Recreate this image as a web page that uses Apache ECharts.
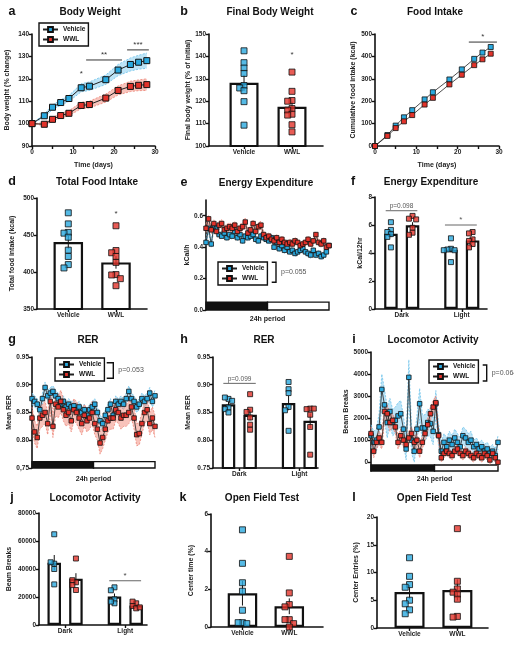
<!DOCTYPE html>
<html><head><meta charset="utf-8">
<script src="https://cdn.jsdelivr.net/npm/echarts@6/dist/echarts.min.js"></script>
<style>html,body{margin:0;padding:0;background:#fff}#c{width:514px;height:645px}</style>
</head><body><div id="c"></div>
<script>
// ================= DATA =================
const groupNames = ['Vehicle', 'WWL'];
const phaseNames = ['Dark', 'Light'];
// a Body weight
const daysA = [0, 3, 5, 7, 9, 12, 14, 18, 21, 24, 26, 28];
const bwVeh = [100, 103.5, 107.3, 109.4, 111.2, 116.0, 116.7, 119.6, 123.9, 126.4, 127.4, 128.1];
const bwVehSem = [0, 0.8, 1.0, 1.2, 1.3, 1.8, 1.9, 2.1, 2.5, 2.9, 3.1, 3.4];
const bwWwl = [100, 99.7, 101.9, 103.6, 104.6, 108.1, 108.5, 111.4, 114.8, 116.6, 117.1, 117.4];
const bwWwlSem = [0, 0.6, 0.8, 1.0, 1.1, 1.4, 1.5, 1.8, 2.0, 2.3, 2.4, 2.6];
const sigA = [[12, 12, 120.0, '*'], [13.2, 21.95, 128.4, '**'], [23.2, 28.5, 132.9, '***']];
// b Final body weight
const fbwVehPts = [142.5, 137.2, 134.8, 132.4, 127.0, 125.9, 124.7, 119.8, 109.3];
const fbwWwlPts = [133.0, 124.4, 120.3, 120.0, 116.7, 116.0, 114.2, 113.8, 109.5, 106.3];
const fbwMean = [128.2, 117.5];
const fbwSem = [3.6, 2.3];
const sigB = [[2, 2, 138.4, '*']];
// c Food intake
const fiVeh = [0, 49, 91, 128, 160, 208, 240, 297, 342, 389, 417, 442];
const fiWwl = [0, 45, 80, 110, 138, 185, 215, 275, 318, 361, 387, 412];
const sigC = [[22.7, 29.5, 464, '*']];
// d Total food intake
const tfiVehPts = [480, 465, 453.5, 452.5, 447, 429.5, 421, 410, 405.5];
const tfiWwlPts = [462.5, 429, 426, 421, 413, 396.5, 396, 391, 381.5];
const tfiMean = [440.5, 413];
const tfiSem = [9, 8.5];
const sigD = [[2, 2, 472, '*']];
// e Energy expenditure (24h)
const eVeh = [0.43,0.52,0.42,0.53,0.52,0.48,0.47,0.49,0.46,0.48,0.47,0.50,0.46,0.48,0.44,0.47,0.46,0.47,0.48,0.45,0.44,0.47,0.46,0.45,0.44,0.46,0.40,0.43,0.39,0.41,0.38,0.40,0.37,0.38,0.36,0.37,0.38,0.39,0.37,0.36,0.35,0.38,0.35,0.36,0.34,0.35,0.37,0.41];
const eVehSem = [0.02,0.025,0.02,0.02,0.02,0.02,0.02,0.02,0.02,0.02,0.02,0.02,0.02,0.02,0.02,0.02,0.02,0.02,0.02,0.02,0.02,0.02,0.02,0.02,0.02,0.02,0.02,0.02,0.02,0.02,0.02,0.02,0.02,0.02,0.02,0.02,0.02,0.02,0.02,0.02,0.02,0.02,0.02,0.02,0.02,0.02,0.02,0.02];
const eWwl = [0.52,0.58,0.51,0.55,0.50,0.54,0.55,0.51,0.52,0.53,0.52,0.54,0.50,0.52,0.53,0.56,0.49,0.51,0.55,0.50,0.53,0.54,0.48,0.46,0.47,0.45,0.44,0.46,0.43,0.45,0.43,0.42,0.43,0.42,0.44,0.43,0.41,0.42,0.43,0.45,0.42,0.44,0.48,0.43,0.42,0.44,0.40,0.41];
const eWwlSem = [0.025,0.025,0.025,0.025,0.025,0.025,0.025,0.025,0.025,0.025,0.025,0.025,0.025,0.025,0.025,0.025,0.025,0.025,0.025,0.025,0.025,0.025,0.025,0.025,0.02,0.02,0.02,0.02,0.02,0.02,0.02,0.02,0.02,0.02,0.02,0.02,0.02,0.02,0.02,0.02,0.02,0.02,0.02,0.02,0.02,0.02,0.02,0.02];
// f Energy expenditure per 12h
const eeDarkVeh = [6.2, 5.65, 5.5, 5.35, 5.15, 4.4];
const eeDarkWwl = [6.65, 6.45, 6.4, 5.8, 5.45, 5.3];
const eeLightVeh = [5.05, 4.3, 4.25, 4.2, 4.2, 3.35];
const eeLightWwl = [5.5, 5.4, 4.97, 4.86, 4.64, 4.4];
const eeVehMean = [5.38, 4.24], eeVehSem = [0.25, 0.22];
const eeWwlMean = [5.98, 4.9], eeWwlSem = [0.22, 0.17];
const sigF = [[0.733, 1.26, 7.02, 'p=0.098'], [1.72, 2.25, 6.0, '*']];
// g RER (24h)
const gVeh = [0.875,0.87,0.865,0.855,0.875,0.895,0.88,0.885,0.888,0.88,0.875,0.865,0.87,0.86,0.865,0.86,0.862,0.855,0.86,0.85,0.855,0.845,0.855,0.86,0.865,0.85,0.835,0.83,0.845,0.855,0.865,0.845,0.87,0.865,0.87,0.865,0.875,0.888,0.875,0.87,0.86,0.865,0.875,0.87,0.875,0.885,0.87,0.88];
const gVehSem = [0.01,0.01,0.01,0.01,0.01,0.01,0.01,0.01,0.01,0.01,0.01,0.01,0.01,0.01,0.01,0.01,0.01,0.01,0.01,0.01,0.01,0.01,0.01,0.01,0.01,0.01,0.01,0.01,0.01,0.01,0.01,0.01,0.01,0.01,0.01,0.01,0.01,0.01,0.01,0.01,0.01,0.01,0.01,0.01,0.01,0.01,0.01,0.01];
const gWwl = [0.84,0.815,0.805,0.84,0.845,0.85,0.83,0.87,0.825,0.865,0.86,0.87,0.855,0.845,0.85,0.835,0.855,0.85,0.84,0.83,0.845,0.835,0.84,0.85,0.83,0.82,0.795,0.805,0.82,0.835,0.84,0.84,0.855,0.85,0.84,0.845,0.845,0.85,0.86,0.84,0.81,0.812,0.83,0.85,0.855,0.83,0.84,0.825];
const gWwlSem = [0.02,0.02,0.02,0.02,0.02,0.02,0.02,0.02,0.02,0.02,0.02,0.02,0.02,0.02,0.02,0.02,0.02,0.02,0.02,0.02,0.02,0.02,0.02,0.02,0.02,0.02,0.02,0.02,0.02,0.02,0.02,0.02,0.02,0.02,0.02,0.02,0.02,0.02,0.02,0.02,0.02,0.02,0.02,0.02,0.02,0.02,0.02,0.02];
// h RER per phase
const rerDarkVeh = [0.8745, 0.877, 0.871, 0.859, 0.856, 0.85];
const rerDarkWwl = [0.883, 0.855, 0.851, 0.841, 0.828, 0.819];
const rerLightVeh = [0.905, 0.892, 0.885, 0.86, 0.854, 0.817];
const rerLightWwl = [0.857, 0.856, 0.857, 0.846, 0.824, 0.774];
const rerVehMean = [0.865, 0.867], rerVehSem = [0.004, 0.013];
const rerWwlMean = [0.846, 0.835], rerWwlSem = [0.01, 0.013];
const sigH = [[0.734, 1.274, 0.9025, 'p=0.099']];
// i Locomotor activity (24h)
const iVeh = [1200,900,1000,1600,3300,2600,1800,2300,1800,1900,2100,2200,1500,600,3850,1000,500,1500,2650,1550,1550,1800,1750,1400,2650,1250,500,900,700,1000,800,1100,900,700,1200,1100,900,1000,700,800,600,700,500,600,400,500,300,900];
const iVehSem = [500,500,500,600,700,700,700,600,600,600,600,600,600,500,800,600,500,600,700,600,600,600,600,600,600,500,400,400,400,400,400,400,400,400,400,400,400,400,300,300,300,300,300,300,300,300,300,300];
const iWwl = [1300,500,900,1100,900,2300,2200,1800,1900,1600,900,1200,1000,800,1100,1300,900,1000,500,900,1300,1700,2200,2500,2700,1200,200,400,500,400,300,500,600,400,300,500,400,300,200,400,300,200,400,300,100,400,200,0];
const iWwlSem = [300,300,300,300,300,400,400,400,300,300,300,300,300,300,300,300,300,300,300,300,300,300,300,300,300,300,200,200,200,200,200,200,200,200,200,200,200,200,200,200,200,200,200,200,200,200,200,200];
// j Locomotor activity per phase
const laDarkVeh = [64800, 43800, 44800, 40000, 29000];
const laDarkWwl = [47500, 30500, 32000, 28500, 25000];
const laLightVeh = [26900, 24800, 18300, 15500, 16700];
const laLightWwl = [15500, 16700, 13600, 11900, 12600];
const laVehMean = [44500, 20300], laVehSem = [5500, 2200];
const laWwlMean = [33000, 14000], laWwlSem = [4000, 900];
const sigJ = [[1.733, 2.262, 31600, '*']];
// k Open field centre time
const ctVehPts = [5.16, 3.38, 2.35, 1.9, 0.89, 0.23, 0.23, 0.18];
const ctWwlPts = [3.75, 1.81, 1.19, 1.07, 0.39, 0.39, 0.18, 0.0];
const ctMean = [1.79, 1.1], ctSem = [0.65, 0.42];
// l Open field centre entries
const ceVehPts = [12.66, 9.31, 7.82, 7.34, 5.01, 4.36, 3.28, 2.57];
const ceWwlPts = [17.9, 8.42, 7.04, 6.45, 6.09, 5.19, 2.09, 1.97];
const ceMean = [6.5, 6.85], ceSem = [1.25, 1.9];

// ================= STYLE / LAYOUT =================
const FONT = '"Liberation Sans", Arial, Helvetica, sans-serif';
const BLUE = '#2aa9df', RED = '#e2332b';
const BAND_B = 'rgba(135,205,240,0.55)', BAND_R = 'rgba(242,135,120,0.5)';
const EDGE_B = '#6fc3ea', EDGE_R = '#ec8577';
const GO = 0.18;
const L = {
  a:{l:32,t:34,w:123,h:112,ymin:90,ymax:140,xmin:0,xmax:30},
  b:{l:209,t:34,w:114,h:112,ymin:100,ymax:150,xmin:0.27,xmax:2.646},
  c:{l:375,t:34,w:124,h:112,ymin:0,ymax:500,xmin:0,xmax:30},
  d:{l:37,t:198,w:110,h:111,ymin:350,ymax:500,xmin:0.344,xmax:2.65},
  e:{l:206,t:200,w:123,h:110,ymin:0,ymax:0.7,xmin:0,xmax:47},
  f:{l:375,t:197,w:112,h:112,ymin:0,ymax:8,xmin:0.555,xmax:2.42},
  g:{l:32,t:357,w:123,h:111,ymin:0.75,ymax:0.95,xmin:0,xmax:47},
  h:{l:213,t:357,w:105,h:111,ymin:0.75,ymax:0.95,xmin:0.562,xmax:2.31},
  i:{l:371,t:352,w:127,h:119,ymin:-400,ymax:5000,xmin:0,xmax:47},
  j:{l:39,t:513,w:108,h:112,ymin:0,ymax:80000,xmin:0.567,xmax:2.36},
  k:{l:211,t:514,w:112,h:113,ymin:0,ymax:6,xmin:0.328,xmax:2.72},
  l:{l:377,t:517,w:111,h:111,ymin:0,ymax:20,xmin:0.32,xmax:2.64}
};

const grids = [], xAxes = [], yAxes = [], series = [], graphics = [];
const axLine = () => ({show:true, onZero:false, lineStyle:{color:'#111', width:1.6}});
const axTick = (extra) => Object.assign({show:true, length:3, lineStyle:{color:'#111', width:1.4}}, extra||{});
const axLab = (extra) => Object.assign({fontSize:6.5, fontWeight:'bold', color:'#222', fontFamily:FONT, margin:3}, extra||{});
const nameStyle = {fontSize:7, fontWeight:'bold', color:'#222', fontFamily:FONT};

function addGrid(p){ grids.push({left:p.l, top:p.t, width:p.w, height:p.h, containLabel:false, outerBoundsMode:'none'}); return grids.length-1; }
function addY(gi, p, name, gap, interval, fmt, custom){
  yAxes.push({type:'value', gridIndex:gi, min:p.ymin, max:p.ymax, interval:interval,
    name:name, nameLocation:'middle', nameGap:gap, nameRotate:90, nameTextStyle:nameStyle,
    axisLine:axLine(), axisTick:axTick(custom?{customValues:custom}:{}),
    axisLabel:axLab(Object.assign({formatter:fmt||(v=>String(v))}, custom?{customValues:custom}:{})),
    splitLine:{show:false}});
}
function addXCat(gi, p, cats){
  const vals = cats.map((_,i)=>i+1);
  xAxes.push({type:'value', gridIndex:gi, min:p.xmin, max:p.xmax, axisLine:axLine(),
    axisTick:axTick({customValues:vals}),
    axisLabel:axLab({customValues:vals, formatter:v=>cats[Math.round(v)-1]}), splitLine:{show:false}});
}
function addXTime(gi, p){
  xAxes.push({type:'value', gridIndex:gi, min:p.xmin, max:p.xmax, interval:5, axisLine:axLine(), axisTick:axTick(),
    axisLabel:axLab({customValues:[0,10,20,30]}), splitLine:{show:false},
    name:'Time (days)', nameLocation:'middle', nameGap:16, nameTextStyle:nameStyle});
}
function addX24(gi, p, gap){
  xAxes.push({type:'value', gridIndex:gi, min:p.xmin, max:p.xmax, axisLine:{show:false}, axisTick:{show:false},
    axisLabel:{show:false}, splitLine:{show:false},
    name:'24h period', nameLocation:'middle', nameGap:gap, nameTextStyle:nameStyle});
}
function bandSeries(gi, xs, mean, sem, fill, edge){
  return {type:'custom', xAxisIndex:gi, yAxisIndex:gi, z:1, silent:true,
    data: xs.map((x,i)=>[x, mean[i]-sem[i], mean[i]+sem[i]]), encode:{x:0, y:[1,2]},
    renderItem(params, api){
      if (params.dataIndex !== 0) return null;
      const up = xs.map((x,i)=>api.coord([x, mean[i]+sem[i]]));
      const lo = xs.map((x,i)=>api.coord([x, mean[i]-sem[i]]));
      return {type:'group', children:[
        {type:'polygon', shape:{points: up.concat(lo.slice().reverse())}, style:{fill:fill}},
        {type:'polyline', shape:{points: up}, style:{stroke:edge, lineWidth:0.8, lineDash:[2,1.5], fill:null}},
        {type:'polyline', shape:{points: lo}, style:{stroke:edge, lineWidth:0.8, lineDash:[2,1.5], fill:null}}
      ]};
    }};
}
function lineSeries(gi, name, xs, ys, color, size, z){
  return {type:'line', name:name, xAxisIndex:gi, yAxisIndex:gi, data: xs.map((x,i)=>[x, ys[i]]),
    symbol:'rect', symbolSize:size, showAllSymbol:true, itemStyle:{color:color, borderColor:'#111', borderWidth:size>5?1:0.8},
    lineStyle:{color:'#222', width:size>5?1:0.8}, z:z||5, silent:true};
}
function errSeries(gi, xs, means, sems){
  return {type:'custom', xAxisIndex:gi, yAxisIndex:gi, z:3, silent:true,
    data: xs.map((x,i)=>[x, means[i]-sems[i], means[i]+sems[i]]), encode:{x:0, y:[1,2]},
    renderItem(params, api){
      const lo = api.coord([api.value(0), api.value(1)]);
      const hi = api.coord([api.value(0), api.value(2)]);
      return {type:'line', shape:{x1:lo[0], y1:lo[1], x2:hi[0], y2:hi[1]}, style:{stroke:'#111', lineWidth:1}};
    }};
}
// simple beeswarm: spreads points of similar value sideways (pixel based)
function swarm(vals, yppu, xppu, size){
  const step = size*0.72, placed = [], offs = [];
  vals.forEach(v=>{
    const py = v*yppu;
    for (let k=0;k<30;k++){
      const cand = k===0?0:(k%2?-1:1)*Math.ceil(k/2)*step;
      if (placed.every(q=>Math.abs(q.x-cand)>=step*0.99 || Math.abs(q.y-py)>=size*0.75)){
        placed.push({x:cand,y:py}); offs.push(cand/xppu); break;
      }
    }
  });
  return offs;
}
function barPanel(gi, p, xs, means, sems, groups, colors, barW, ms){
  const yppu = p.h/(p.ymax-p.ymin), xppu = p.w/(p.xmax-p.xmin);
  series.push({type:'bar', xAxisIndex:gi, yAxisIndex:gi, data: xs.map((x,i)=>[x, means[i]]), barWidth:barW,
    itemStyle:{color:'#fff', borderColor:'#111', borderWidth:2.2}, z:2, silent:true});
  series.push(errSeries(gi, xs, means, sems));
  groups.forEach((vals, g)=>{
    const offs = swarm(vals, yppu, xppu, ms);
    series.push({type:'scatter', xAxisIndex:gi, yAxisIndex:gi, data: vals.map((v,j)=>[xs[g]+offs[j], v]),
      symbol:'rect', symbolSize:ms, itemStyle:{color:colors[g], borderColor:'#111', borderWidth:1}, z:4, silent:true});
  });
}
function sigSeries(gi, items, opt){
  opt = opt || {};
  return {type:'custom', xAxisIndex:gi, yAxisIndex:gi, z:6, silent:true,
    data: items.map(it=>[it[0], it[1], it[2]]), encode:{x:[0,1], y:2},
    renderItem(params, api){
      const it = items[params.dataIndex];
      const a = api.coord([it[0], it[2]]), b = api.coord([it[1], it[2]]);
      const ch = [];
      const isP = String(it[3]).indexOf('p=') === 0;
      if (it[1] > it[0]) ch.push({type:'line', shape:{x1:a[0],y1:a[1],x2:b[0],y2:b[1]}, style:{stroke:opt.lc||'#333', lineWidth:1}});
      ch.push({type:'text', style:{text:it[3], x:(a[0]+b[0])/2, y:a[1]-1, align:'center', verticalAlign:'bottom',
        textAlign:'center', textVerticalAlign:'bottom', fontSize:isP?6.5:8, fontWeight:'normal', fontFamily:FONT, fill:opt.tc||'#333'}});
      return {type:'group', children:ch};
    }};
}
function periodBar(p, hFrac){
  // light/dark bar along the bottom, in data units of the panel
  const y0 = p.ymin, y1 = p.ymin + (p.ymax - p.ymin) * hFrac, mid = (p.xmin + p.xmax) / 2;
  return {silent:true, data:[
    [{xAxis:p.xmin, yAxis:y0, itemStyle:{color:'#111', borderColor:'#111', borderWidth:1.4}}, {xAxis:mid, yAxis:y1}],
    [{xAxis:mid, yAxis:y0, itemStyle:{color:'#fff', borderColor:'#111', borderWidth:1.4}}, {xAxis:p.xmax, yAxis:y1}]
  ]};
}
const idx = n => Array.from({length:n}, (_, i) => i);

// ---- a
let gi = addGrid(L.a); addXTime(gi, L.a); addY(gi, L.a, 'Body weight (% change)', 21.5, 10);
series.push(bandSeries(gi, daysA, bwVeh, bwVehSem, BAND_B, EDGE_B));
series.push(bandSeries(gi, daysA, bwWwl, bwWwlSem, BAND_R, EDGE_R));
series.push(lineSeries(gi, 'Vehicle', daysA, bwVeh, BLUE, 6));
series.push(lineSeries(gi, 'WWL', daysA, bwWwl, RED, 6));
series.push(sigSeries(gi, sigA));
// ---- b
gi = addGrid(L.b); addXCat(gi, L.b, groupNames); addY(gi, L.b, 'Final body weight (% of initial)', 15.5, 10);
barPanel(gi, L.b, [1,2], fbwMean, fbwSem, [fbwVehPts, fbwWwlPts], [BLUE, RED], 29, 6);
series.push(sigSeries(gi, sigB));
// ---- c
gi = addGrid(L.c); addXTime(gi, L.c); addY(gi, L.c, 'Cumulative food intake (kcal)', 18.5, 100);
series.push(lineSeries(gi, 'Vehicle', daysA, fiVeh, BLUE, 5));
series.push(lineSeries(gi, 'WWL', daysA, fiWwl, RED, 5));
series.push(sigSeries(gi, sigC));
// ---- d
gi = addGrid(L.d); addXCat(gi, L.d, groupNames); addY(gi, L.d, 'Total food intake (kcal)', 21.5, 50);
barPanel(gi, L.d, [1,2], tfiMean, tfiSem, [tfiVehPts, tfiWwlPts], [BLUE, RED], 29.5, 6);
series.push(sigSeries(gi, sigD));
// ---- e
gi = addGrid(L.e); addX24(gi, L.e, 6); addY(gi, L.e, 'kCal/h', 15.5, null, v=>v.toFixed(1), [0,0.2,0.4,0.6]);
series.push(bandSeries(gi, idx(eVeh.length), eVeh, eVehSem, BAND_B, EDGE_B));
series.push(bandSeries(gi, idx(eWwl.length), eWwl, eWwlSem, BAND_R, EDGE_R));
let s = lineSeries(gi, 'Vehicle', idx(eVeh.length), eVeh, BLUE, 4.5); s.markArea = periodBar(L.e, 0.072); series.push(s);
series.push(lineSeries(gi, 'WWL', idx(eWwl.length), eWwl, RED, 4.5, 6));
// ---- f
gi = addGrid(L.f); addXCat(gi, L.f, phaseNames); addY(gi, L.f, 'kCal/12hr', 11.5, 2);
barPanel(gi, L.f, [1-GO, 1+GO, 2-GO, 2+GO], [eeVehMean[0], eeWwlMean[0], eeVehMean[1], eeWwlMean[1]],
  [eeVehSem[0], eeWwlSem[0], eeVehSem[1], eeWwlSem[1]], [eeDarkVeh, eeDarkWwl, eeLightVeh, eeLightWwl], [BLUE, RED, BLUE, RED], 13.5, 5);
series.push(sigSeries(gi, sigF, {lc:'#666', tc:'#555'}));
// ---- g
gi = addGrid(L.g); addX24(gi, L.g, 7.5); addY(gi, L.g, 'Mean RER', 13.5, 0.05, v=>Math.abs(v-0.75)<1e-6?'0,75':v.toFixed(2));
series.push(bandSeries(gi, idx(gVeh.length), gVeh, gVehSem, BAND_B, EDGE_B));
series.push(bandSeries(gi, idx(gWwl.length), gWwl, gWwlSem, BAND_R, EDGE_R));
s = lineSeries(gi, 'Vehicle', idx(gVeh.length), gVeh, BLUE, 4.5); s.markArea = periodBar(L.g, 0.057); series.push(s);
series.push(lineSeries(gi, 'WWL', idx(gWwl.length), gWwl, RED, 4.5, 6));
// ---- h
gi = addGrid(L.h); addXCat(gi, L.h, phaseNames); addY(gi, L.h, 'Mean RER', 21, 0.05, v=>v.toFixed(2));
barPanel(gi, L.h, [1-GO, 1+GO, 2-GO, 2+GO], [rerVehMean[0], rerWwlMean[0], rerVehMean[1], rerWwlMean[1]],
  [rerVehSem[0], rerWwlSem[0], rerVehSem[1], rerWwlSem[1]], [rerDarkVeh, rerDarkWwl, rerLightVeh, rerLightWwl], [BLUE, RED, BLUE, RED], 13.5, 5);
series.push(sigSeries(gi, sigH, {lc:'#666', tc:'#555'}));
// ---- i
gi = addGrid(L.i); addX24(gi, L.i, 5); addY(gi, L.i, 'Beam Breaks', 14, null, v=>String(v), [0,1000,2000,3000,4000,5000]);
series.push(bandSeries(gi, idx(iVeh.length), iVeh, iVehSem, BAND_B, EDGE_B));
series.push(bandSeries(gi, idx(iWwl.length), iWwl, iWwlSem, BAND_R, EDGE_R));
s = lineSeries(gi, 'Vehicle', idx(iVeh.length), iVeh, BLUE, 4.5); s.markArea = periodBar(L.i, 0.05); series.push(s);
series.push(lineSeries(gi, 'WWL', idx(iWwl.length), iWwl, RED, 4.5, 6));
// ---- j
gi = addGrid(L.j); addXCat(gi, L.j, phaseNames); addY(gi, L.j, 'Beam Breaks', 26, 20000);
barPanel(gi, L.j, [1-GO, 1+GO, 2-GO, 2+GO], [laVehMean[0], laWwlMean[0], laVehMean[1], laWwlMean[1]],
  [laVehSem[0], laWwlSem[0], laVehSem[1], laWwlSem[1]], [laDarkVeh, laDarkWwl, laLightVeh, laLightWwl], [BLUE, RED, BLUE, RED], 13.5, 5);
series.push(sigSeries(gi, sigJ, {lc:'#666', tc:'#444'}));
// ---- k
gi = addGrid(L.k); addXCat(gi, L.k, groupNames); addY(gi, L.k, 'Center time (%)', 16.5, 2);
barPanel(gi, L.k, [1,2], ctMean, ctSem, [ctVehPts, ctWwlPts], [BLUE, RED], 29.5, 6);
// ---- l
gi = addGrid(L.l); addXCat(gi, L.l, groupNames); addY(gi, L.l, 'Center Entries (%)', 17, 5);
barPanel(gi, L.l, [1,2], ceMean, ceSem, [ceVehPts, ceWwlPts], [BLUE, RED], 30, 6);

// ---- titles & letters
const titles = [
  ['a', 'Body Weight', 12, 90, 12], ['b', 'Final Body Weight', 184, 270, 12], ['c', 'Food Intake', 354, 435, 12],
  ['d', 'Total Food Intake', 12, 97, 182], ['e', 'Energy Expenditure', 184, 266, 183], ['f', 'Energy Expenditure', 353, 431, 182],
  ['g', 'RER', 12, 88, 340], ['h', 'RER', 184, 264, 340], ['i', 'Locomotor Activity', 354, 433, 340],
  ['j', 'Locomotor Activity', 12, 95, 498], ['k', 'Open Field Test', 183, 262, 498], ['l', 'Open Field Test', 354, 434, 498]
];
titles.forEach(t=>{
  graphics.push({type:'text', x:t[2], y:t[4], style:{text:t[0], fontSize:12.5, fontWeight:'bold', fontFamily:FONT, fill:'#111', align:'center', verticalAlign:'middle', textAlign:'center', textVerticalAlign:'middle'}});
  graphics.push({type:'text', x:t[3], y:t[4], style:{text:t[1], fontSize:10, fontWeight:'bold', fontFamily:FONT, fill:'#111', align:'center', verticalAlign:'middle', textAlign:'center', textVerticalAlign:'middle'}});
});
// legend brackets + p values
const brackets = [[271.7, 276, 262.3, 282.3, 'p=0.055'], [106.7, 113.3, 362.7, 378.3, 'p=0.053'], [482.7, 486.7, 365, 381, 'p=0.064']];
brackets.forEach(b=>{
  graphics.push({type:'polyline', shape:{points:[[b[0],b[2]],[b[1],b[2]],[b[1],b[3]],[b[0],b[3]]]}, style:{stroke:'#111', lineWidth:1.4, fill:null}});
  graphics.push({type:'text', x:b[1]+5, y:(b[2]+b[3])/2, style:{text:b[4], fontSize:7, fontFamily:FONT, fill:'#555', align:'left', verticalAlign:'middle', textAlign:'left', textVerticalAlign:'middle'}});
});
function legendAt(left, top){
  return {show:true, data:groupNames, orient:'vertical', left:left, top:top, padding:[3,3,3,3], itemGap:3,
    itemWidth:15, itemHeight:6, borderColor:'#111', borderWidth:1.4, backgroundColor:'#fff', selectedMode:false,
    textStyle:{fontSize:6.5, fontWeight:'bold', color:'#111', fontFamily:FONT}, z:10};
}
const chart = echarts.init(document.getElementById('c'), null, {renderer:'canvas', width:514, height:645});
chart.setOption({
  animation:false, backgroundColor:'#fff',
  textStyle:{fontFamily:FONT},
  grid:grids, xAxis:xAxes, yAxis:yAxes, series:series,
  legend:[legendAt(39,23), legendAt(218,262), legendAt(55,358), legendAt(429,360)],
  graphic:{elements:graphics}
});
</script></body></html>
